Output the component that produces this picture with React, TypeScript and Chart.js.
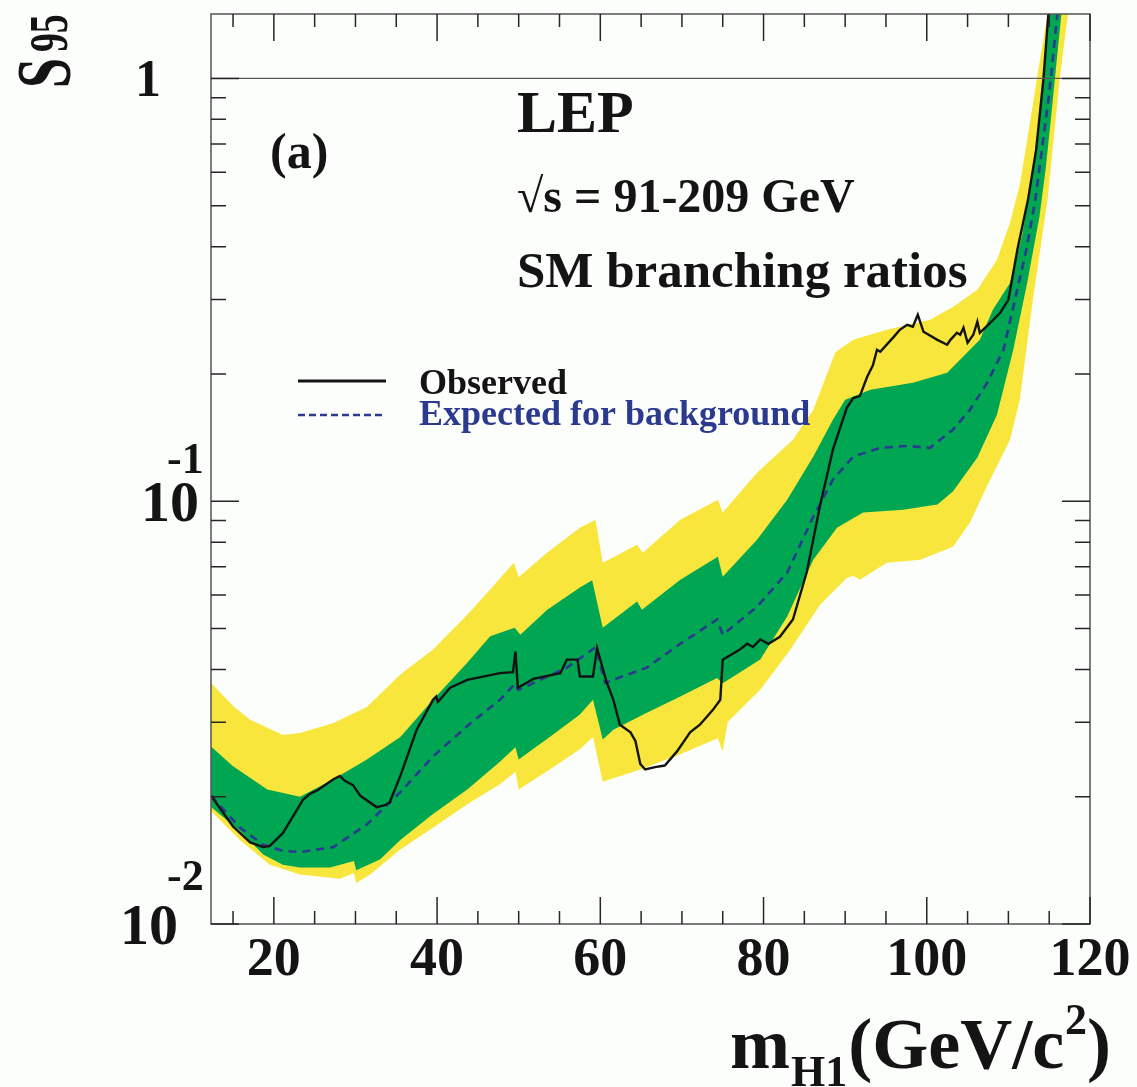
import { useEffect, useRef } from "react";
import { Chart, registerables } from "chart.js";

Chart.register(...registerables);

const WIDTH = 1137;
const HEIGHT = 1087;
const PAPER = "#fcfefc";
const YELLOW = "#f9e63c";
const GREEN = "#00a651";
const NAVY = "#2b3a8f";
const INK = "#141414";
const SERIF = '"Liberation Serif", "Times New Roman", serif';

const X_MIN = 12.3;
const X_MAX = 120;
const Y_MIN = 0.01;
const Y_MAX = 1.42;

// Observed 95% CL limit on S95
const observedMass = [
  12.3, 15.0, 17.1, 18.7, 19.5, 21.1, 23.6, 24.4, 25.3, 27.3, 28.1, 28.7, 29.7, 30.6, 32.6, 33.6, 34.2,
  35.5, 37.5, 39.5, 39.9, 40.1, 41.6, 43.7, 47.7, 49.3, 49.6, 49.9, 51.8, 55.1, 55.9, 57.2, 57.5, 59.1,
  59.6, 60.8, 61.6, 62.4, 63.7, 64.3, 64.9, 65.5, 66.7, 67.9, 69.4, 71.0, 72.2, 73.8, 74.7, 75.0, 77.1,
  78.0, 78.7, 79.6, 80.6, 82.0, 83.6, 85.3, 86.9, 88.5, 90.2, 91.0, 91.8, 92.7, 93.4, 93.9, 94.3, 95.9,
  96.7, 97.6, 98.3, 98.9, 99.6, 101.3, 102.5, 102.9, 103.7, 104.1, 104.5, 105.0, 105.7, 106.2, 106.5,
  107.8, 109.0, 110.0, 111.1, 112.4, 113.4, 114.3, 114.9, 115.4,
];
const observedS95 = [
  0.0201, 0.017, 0.0156, 0.0152, 0.0153, 0.0164, 0.0197, 0.0203, 0.0207, 0.022, 0.0224, 0.0218, 0.0213,
  0.0201, 0.0189, 0.0191, 0.0194, 0.0224, 0.0288, 0.0339, 0.0345, 0.0335, 0.0362, 0.0378, 0.0392, 0.0394,
  0.0441, 0.0362, 0.038, 0.0392, 0.0422, 0.0422, 0.0385, 0.0385, 0.0449, 0.0372, 0.0339, 0.0296, 0.0284,
  0.0271, 0.0239, 0.0232, 0.0235, 0.0237, 0.0256, 0.0284, 0.0296, 0.0321, 0.0339, 0.0422, 0.0446, 0.046,
  0.0452, 0.0471, 0.046, 0.0478, 0.0525, 0.068, 0.0971, 0.1324, 0.1663, 0.1753, 0.1772, 0.1969, 0.2096,
  0.2281, 0.2256, 0.244, 0.2543, 0.2614, 0.2587, 0.276, 0.2516, 0.2408, 0.2344, 0.2408, 0.2502, 0.2475,
  0.2572, 0.2369, 0.2475, 0.2657, 0.2502, 0.2643, 0.279, 0.2994, 0.3931, 0.5161, 0.6776, 1.0, 1.421, 1.805,
];

// Median expected limit for background only
const expectedMass = [
  12.3, 15.85, 18.7, 21.1, 23.2, 27.3, 31.4, 35.5, 39.5, 43.7, 47.7, 49.6, 50.0, 55.9, 59.4, 60.6, 65.7,
  69.8, 74.3, 75.0, 79.2, 82.9, 86.1, 88.5, 91.0, 94.3, 97.6, 100.4, 103.2, 105.3, 107.4, 109.4, 110.8,
  112.2, 113.3, 114.1, 114.9, 115.2, 116.0, 116.5,
];
const expectedS95 = [
  0.0201, 0.0169, 0.0154, 0.0149, 0.0148, 0.0152, 0.0172, 0.0205, 0.0249, 0.0294, 0.0339, 0.0371, 0.0358,
  0.0404, 0.0451, 0.0372, 0.0404, 0.046, 0.0525, 0.0483, 0.0563, 0.0678, 0.0919, 0.1124, 0.1275, 0.1337,
  0.1351, 0.1337, 0.1476, 0.1646, 0.1906, 0.2281, 0.2994, 0.3931, 0.5161, 0.6776, 0.89, 1.0, 1.421, 1.805,
];

// 68% band, upper edge
const sigma1UpMass = [
  12.3, 15.0, 19.2, 23.2, 27.3, 31.4, 35.5, 39.5, 43.7, 46.5, 49.5, 50.2, 53.5, 57.5, 59.0, 60.3, 64.5,
  65.1, 69.8, 74.4, 75.0, 79.2, 82.9, 86.1, 88.5, 90.0, 93.1, 98.3, 102.5, 106.5, 108.1, 110.2, 111.7,
  112.8, 113.7, 114.3, 115.0, 115.6,
];
const sigma1UpS95 = [
  0.0263, 0.0236, 0.0208, 0.02, 0.022, 0.0245, 0.0277, 0.0339, 0.0415, 0.0479, 0.0502, 0.0483, 0.0554,
  0.0625, 0.065, 0.0502, 0.0579, 0.0554, 0.0652, 0.0739, 0.0663, 0.0811, 0.1008, 0.1275, 0.1559, 0.1738,
  0.1835, 0.1906, 0.2013, 0.2408, 0.2836, 0.3281, 0.426, 0.575, 0.776, 1.0, 1.421, 1.805,
];

// 68% band, lower edge
const sigma1LoMass = [
  12.3, 15.85, 18.7, 21.1, 23.2, 26.9, 29.8, 30.1, 33.0, 35.5, 39.5, 43.7, 47.7, 49.6, 50.0, 53.8, 57.5,
  59.1, 60.3, 61.6, 65.7, 69.8, 74.3, 75.0, 79.6, 82.9, 86.1, 89.0, 92.2, 97.1, 101.3, 103.2, 106.2, 108.6,
  110.6, 112.3, 113.8, 114.6, 115.2, 115.7, 116.5, 117.1,
];
const sigma1LoS95 = [
  0.0189, 0.0166, 0.0146, 0.0138, 0.0136, 0.0136, 0.0141, 0.0134, 0.0142, 0.0158, 0.0182, 0.0208, 0.0242,
  0.0262, 0.0245, 0.0277, 0.0313, 0.0339, 0.0273, 0.0288, 0.0316, 0.0345, 0.0382, 0.0371, 0.0422, 0.0534,
  0.0727, 0.0865, 0.094, 0.0955, 0.0982, 0.1054, 0.1268, 0.1602, 0.2281, 0.3281, 0.4703, 0.6177, 0.798,
  1.0, 1.421, 1.805,
];

// 95% band, upper edge
const sigma2UpMass = [
  12.3, 15.0, 17.1, 21.1, 23.2, 27.3, 31.4, 35.5, 39.5, 43.7, 46.5, 49.4, 50.0, 53.5, 57.5, 59.4, 60.3,
  64.5, 65.2, 69.8, 74.4, 75.0, 79.2, 83.6, 86.1, 88.8, 91.0, 95.1, 100.4, 103.2, 106.2, 108.6, 110.2,
  111.4, 112.4, 113.5, 114.8, 115.4,
];
const sigma2UpS95 = [
  0.0372, 0.0328, 0.0304, 0.028, 0.0283, 0.0299, 0.0326, 0.0389, 0.0446, 0.0539, 0.0618, 0.0715, 0.0661,
  0.0756, 0.0865, 0.0904, 0.0715, 0.0789, 0.0755, 0.0904, 0.1008, 0.094, 0.1168, 0.1398, 0.1646, 0.225,
  0.2408, 0.2543, 0.2685, 0.2881, 0.3162, 0.3723, 0.4553, 0.56, 0.735, 1.0, 1.421, 1.805,
];

// 95% band, lower edge
const sigma2LoMass = [
  12.3, 15.85, 19.5, 23.2, 28.1, 29.8, 30.1, 31.8, 35.5, 39.5, 43.7, 47.7, 49.6, 50.0, 53.8, 57.5, 59.1,
  60.3, 64.9, 69.8, 74.4, 75.0, 75.6, 79.6, 83.3, 86.9, 90.2, 91.0, 91.8, 95.1, 99.2, 103.2, 105.3, 107.4,
  110.2, 111.4, 113.0, 114.8, 116.3, 117.3, 118.0,
];
const sigma2LoS95 = [
  0.0185, 0.0158, 0.0138, 0.0131, 0.0128, 0.0132, 0.0125, 0.0131, 0.015, 0.0169, 0.0192, 0.0214, 0.0229,
  0.0208, 0.0232, 0.0259, 0.0277, 0.0217, 0.0232, 0.0252, 0.0275, 0.0256, 0.03, 0.0358, 0.0446, 0.0568,
  0.0658, 0.0666, 0.0652, 0.0715, 0.0727, 0.078, 0.0891, 0.1088, 0.1398, 0.1738, 0.2994, 0.5161, 1.0,
  1.421, 1.805,
];

const xMajorTicks = [20, 40, 60, 80, 100, 120];
const xTickLabels = ["20", "40", "60", "80", "100", "120"];
const xMinorTicks = [15, 25, 30, 35, 45, 50, 55, 65, 70, 75, 85, 90, 95, 105, 110, 115];
const yMajorTicks = [0.01, 0.1, 1];
const yMinorTicks = [
  0.02, 0.03, 0.04, 0.05, 0.06, 0.07, 0.08, 0.09, 0.2, 0.3, 0.4, 0.5, 0.6, 0.7, 0.8, 0.9,
];
const legendLabels = ["Observed", "Expected for background"];
const headerLines = ["LEP", "\u221As = 91-209 GeV", "SM branching ratios"];

const pts = (xs: number[], ys: number[]) => xs.map((x, i) => ({ x, y: ys[i] }));
const font = (px: number) => `bold ${px}px ${SERIF}`;

const decorations = {
  id: "decorations",
  beforeDraw(chart: Chart) {
    const ctx = chart.ctx;
    ctx.save();
    ctx.fillStyle = PAPER;
    ctx.fillRect(0, 0, chart.width, chart.height);
    ctx.restore();
  },
  afterDatasetsDraw(chart: Chart) {
    const ctx = chart.ctx;
    const { left, right, top, bottom } = chart.chartArea;
    const xs = chart.scales.x;
    const ys = chart.scales.y;
    ctx.save();

    // reference line at S95 = 1
    const yOne = ys.getPixelForValue(1);
    ctx.strokeStyle = "#5a5a5a";
    ctx.lineWidth = 1.3;
    ctx.beginPath();
    ctx.moveTo(left, yOne);
    ctx.lineTo(right, yOne);
    ctx.stroke();

    // frame
    ctx.strokeStyle = "#5c5c5c";
    ctx.lineWidth = 1.6;
    ctx.strokeRect(left, top, right - left, bottom - top);

    // ticks on all four sides, pointing inwards
    ctx.strokeStyle = "#262626";
    ctx.lineWidth = 1.5;
    ctx.beginPath();
    const xTick = (v: number, len: number) => {
      const p = xs.getPixelForValue(v);
      ctx.moveTo(p, bottom);
      ctx.lineTo(p, bottom - len);
      ctx.moveTo(p, top);
      ctx.lineTo(p, top + len);
    };
    const yTick = (v: number, len: number) => {
      const p = ys.getPixelForValue(v);
      ctx.moveTo(left, p);
      ctx.lineTo(left + len, p);
      ctx.moveTo(right, p);
      ctx.lineTo(right - len, p);
    };
    xMajorTicks.forEach((v) => xTick(v, 27));
    xMinorTicks.forEach((v) => xTick(v, 13));
    yMajorTicks.forEach((v) => yTick(v, 28));
    yMinorTicks.forEach((v) => yTick(v, 15));
    ctx.stroke();
    ctx.restore();
  },
  afterDraw(chart: Chart) {
    const ctx = chart.ctx;
    const xs = chart.scales.x;
    const ys = chart.scales.y;
    ctx.save();
    ctx.fillStyle = INK;
    ctx.textBaseline = "alphabetic";

    // x tick labels
    ctx.font = font(54);
    ctx.textAlign = "center";
    xMajorTicks.forEach((v, i) => ctx.fillText(xTickLabels[i], xs.getPixelForValue(v), 975));

    // y tick labels: 1, 10^-1, 10^-2
    ctx.textAlign = "right";
    const y1 = ys.getPixelForValue(1);
    ctx.font = font(52);
    ctx.fillText("1", 161, y1 + 18);
    ctx.font = font(58);
    const yDec1 = ys.getPixelForValue(0.1);
    ctx.fillText("10", 199, yDec1 + 20);
    const yDec2 = ys.getPixelForValue(0.01);
    ctx.fillText("10", 178, yDec2 + 20);
    ctx.textAlign = "left";
    ctx.font = font(44);
    ctx.fillText("-1", 167, yDec1 - 28);
    ctx.fillText("-2", 167, yDec2 - 34);

    // x axis title
    let x = 730;
    ctx.font = font(72);
    ctx.fillText("m", x, 1068);
    x += ctx.measureText("m").width + 1;
    ctx.font = font(44);
    ctx.fillText("H1", x, 1086);
    x += ctx.measureText("H1").width + 1;
    ctx.font = font(72);
    ctx.fillText("(GeV/c", x, 1068);
    x += ctx.measureText("(GeV/c").width + 1;
    ctx.font = font(44);
    ctx.fillText("2", x, 1034);
    x += ctx.measureText("2").width;
    ctx.font = font(72);
    ctx.fillText(")", x, 1068);

    // y axis title, rotated and narrow
    ctx.save();
    ctx.translate(70, 88);
    ctx.rotate(-Math.PI / 2);
    ctx.scale(0.69, 1);
    ctx.font = font(78);
    ctx.fillText("S", 0, 0);
    ctx.font = font(55);
    ctx.fillText("95", 52, -3);
    ctx.restore();

    // panel label and header
    ctx.font = font(50);
    ctx.fillText("(a)", 270, 168);
    ctx.font = font(60);
    ctx.fillText(headerLines[0], 517, 132);
    ctx.font = font(48);
    ctx.fillText(headerLines[1], 517, 212);
    ctx.font = font(51);
    ctx.fillText(headerLines[2], 517, 287);

    // legend
    ctx.strokeStyle = INK;
    ctx.lineWidth = 3;
    ctx.beginPath();
    ctx.moveTo(298, 381);
    ctx.lineTo(386, 381);
    ctx.stroke();
    ctx.strokeStyle = NAVY;
    ctx.lineWidth = 2.6;
    ctx.setLineDash([7, 4]);
    ctx.beginPath();
    ctx.moveTo(298, 415);
    ctx.lineTo(386, 415);
    ctx.stroke();
    ctx.setLineDash([]);
    ctx.font = font(36);
    ctx.fillStyle = INK;
    ctx.fillText(legendLabels[0], 419, 394);
    ctx.fillStyle = NAVY;
    ctx.fillText(legendLabels[1], 419, 425);
    ctx.restore();
  },
};

export default function App() {
  const canvasRef = useRef<HTMLCanvasElement>(null);

  useEffect(() => {
    const canvas = canvasRef.current;
    if (!canvas) return;
    const band = (xs: number[], ys: number[], color: string) => ({
      data: pts(xs, ys),
      borderWidth: 0,
      borderColor: "rgba(0,0,0,0)",
      backgroundColor: color,
      fill: "end" as const,
      pointRadius: 0,
      tension: 0,
      clip: 0,
    });
    const chart = new Chart(canvas, {
      type: "line",
      data: {
        datasets: [
          {
            label: legendLabels[0],
            data: pts(observedMass, observedS95),
            borderColor: INK,
            borderWidth: 2.4,
            pointRadius: 0,
            tension: 0,
            fill: false,
            clip: 0,
          },
          {
            label: legendLabels[1],
            data: pts(expectedMass, expectedS95),
            borderColor: NAVY,
            borderWidth: 2.6,
            borderDash: [8, 6],
            pointRadius: 0,
            tension: 0,
            fill: false,
            clip: 0,
          },
          // stacked "fill to top" layers build the two bands
          band(sigma2UpMass, sigma2UpS95, PAPER),
          band(sigma1UpMass, sigma1UpS95, YELLOW),
          band(sigma1LoMass, sigma1LoS95, GREEN),
          band(sigma2LoMass, sigma2LoS95, YELLOW),
        ],
      },
      options: {
        responsive: false,
        maintainAspectRatio: false,
        animation: false,
        events: [],
        layout: { padding: { left: 211, top: 14, right: 47, bottom: 163 } },
        plugins: { legend: { display: false }, tooltip: { enabled: false } },
        scales: {
          x: { type: "linear", min: X_MIN, max: X_MAX, display: false },
          y: { type: "logarithmic", min: Y_MIN, max: Y_MAX, display: false },
        },
      },
      plugins: [decorations],
    });
    return () => chart.destroy();
  }, []);

  return (
    <div style={{ position: "absolute", left: 0, top: 0, width: WIDTH, height: HEIGHT, background: PAPER }}>
      <canvas
        ref={canvasRef}
        width={WIDTH}
        height={HEIGHT}
        style={{ display: "block", width: WIDTH, height: HEIGHT }}
      />
    </div>
  );
}
